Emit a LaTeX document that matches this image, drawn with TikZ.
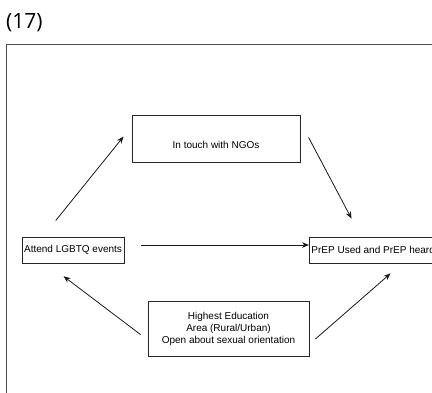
\documentclass[tikz,border=0pt]{standalone}
\usepackage{fontspec}
\setmainfont{Liberation Sans}
\newfontfamily\tagfont{Open Sans}
\usetikzlibrary{arrows.meta}
\begin{document}
\begin{tikzpicture}[x=1pt,y=-1pt,
  box/.style={draw=black!85, line width=0.9pt, inner xsep=2pt, inner ysep=0pt,
    font=\fontsize{10}{12}\selectfont, align=center},
  link/.style={draw=black!90, line width=0.8pt, -{Stealth[length=7pt,width=5.5pt]}}]
\useasboundingbox (0,0) rectangle (432,393);
\clip (0,0) rectangle (432,393);
\node[anchor=west, inner sep=0pt, font=\tagfont\fontsize{21}{24}\selectfont] (tag) at (6,23) {(17)};
\draw[draw=black!70, line width=0.9pt] (6,500) -- (6,44) -- (500,44);

\node[box, minimum width=102pt, minimum height=26pt] (lgbtq) at (73,250) {Attend LGBTQ events};
\node[box, minimum width=168pt, text height=34pt, text depth=13pt] (ngo) at (216,138.5) {In touch with NGOs};
\node[box, minimum height=26pt, anchor=west] (prep) at (309,250) {PrEP Used and PrEP heard};
\node[box, minimum width=161pt, minimum height=55pt] (edu) at (228.5,328.5) {Highest Education\\Area (Rural/Urban)\\Open about sexual orientation};

\path[link, shorten <=20.6pt, shorten >=12.8pt] (lgbtq.156.6) -- (ngo.172);
\path[link, shorten <=17.3pt, shorten >=20.3pt] (ngo.11.3) -- (prep.132.9);
\path[link, shorten <=17pt] ([yshift=5pt]lgbtq.east) -- ([yshift=5pt]prep.west);
\path[link, shorten <=8.8pt, shorten >=21.2pt] (edu.188.4) -- (lgbtq.207.8);
\path[link, shorten <=7.9pt, shorten >=15.2pt] (edu.349.7) -- (prep.335.7);
\end{tikzpicture}
\end{document}
